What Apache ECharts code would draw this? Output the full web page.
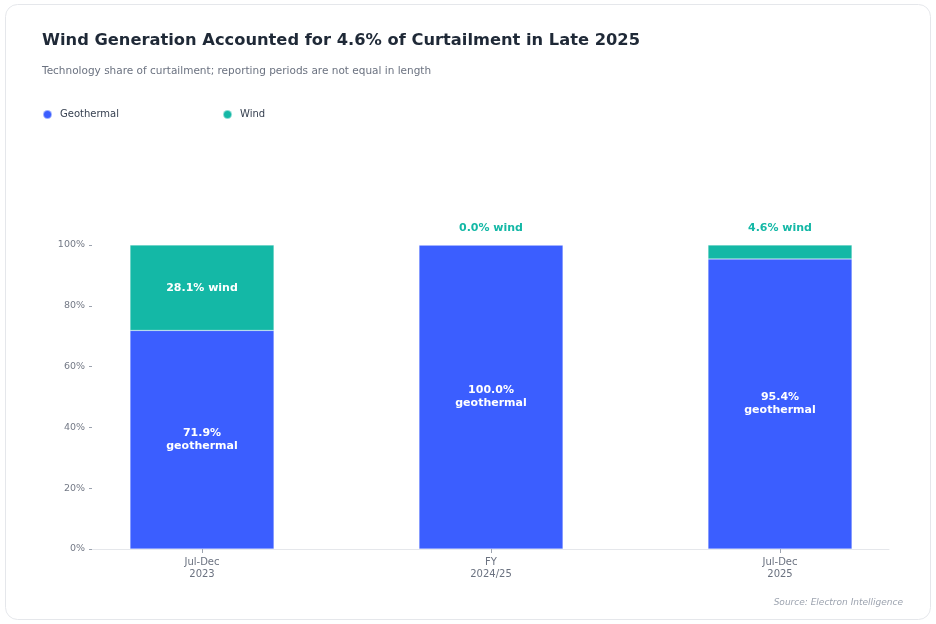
<!DOCTYPE html>
<html>
<head>
<meta charset="utf-8">
<script src="https://cdn.jsdelivr.net/npm/echarts@6/dist/echarts.min.js"></script>
<style>
  html, body { margin: 0; padding: 0; background: #fff; }
  #chart { width: 936px; height: 624px; }
</style>
</head>
<body>
<div id="chart"></div>
<script>
// periods on the x axis
var periods = ['Jul-Dec\n2023', 'FY\n2024/25', 'Jul-Dec\n2025'];
// share of curtailment, %
var geothermal = [71.9, 100.0, 95.4];
var wind = [28.1, 0.0, 4.6];
var yTicks = [0, 20, 40, 60, 80, 100];

var GEO = '#3b5eff';
var WIND = '#14b8a6';
var FONT = 'DejaVu Sans';

var chart = echarts.init(document.getElementById('chart'));

var windData = wind.map(function (v) {
    var big = v > 10; // big enough segment: label goes inside
    return {
        value: v,
        label: big ? {
            position: 'inside', color: '#fff'
        } : {
            position: 'top', distance: 11, color: WIND
        }
    };
});

var option = {
    animation: false,
    textStyle: { fontFamily: FONT },
    graphic: [{
        type: 'rect',
        silent: true,
        z: -10,
        shape: { x: 5.5, y: 4.5, width: 925, height: 615, r: 12 },
        style: { fill: '#fff', stroke: '#e5e7eb', lineWidth: 1 }
    }, {
        type: 'text',
        right: 33,
        top: 598,
        style: {
            text: 'Source: Electron Intelligence',
            font: 'italic 9px "DejaVu Sans"',
            fill: '#9ca3af'
        }
    }],
    title: {
        text: 'Wind Generation Accounted for 4.6% of Curtailment in Late 2025',
        subtext: 'Technology share of curtailment; reporting periods are not equal in length',
        left: 37,
        top: 28,
        itemGap: 17,
        textStyle: { fontFamily: FONT, fontSize: 16.3, fontWeight: 'bold', color: '#1f2937' },
        subtextStyle: { fontFamily: FONT, fontSize: 10.5, color: '#6b7280' }
    },
    legend: {
        left: 37,
        top: 104,
        icon: 'circle',
        itemWidth: 9,
        itemHeight: 9,
        itemGap: 103,
        textStyle: { fontFamily: FONT, fontSize: 10, color: '#374151', padding: [0, 0, 0, 3] },
        data: ['Geothermal', 'Wind']
    },
    grid: [
        // bars: one 289px band per period
        { left: 57.5, right: 11.5, top: 245, bottom: 75 },
        // visible axes
        { left: 92, right: 47, top: 245, bottom: 75 }
    ],
    xAxis: [{
        type: 'category',
        gridIndex: 0,
        data: periods,
        axisLine: { show: false },
        axisTick: { show: true, alignWithLabel: true, length: 4, lineStyle: { color: '#9ca3af' } },
        axisLabel: { color: '#6b7280', fontSize: 10, lineHeight: 12, margin: 7 }
    }, {
        type: 'value',
        gridIndex: 1,
        min: 0,
        max: 1,
        splitLine: { show: false },
        axisLine: { show: true, onZero: false, lineStyle: { color: '#e5e7eb' } },
        axisTick: { show: false },
        axisLabel: { show: false }
    }],
    yAxis: [{
        type: 'value',
        gridIndex: 0,
        min: 0,
        max: 100,
        show: false
    }, {
        type: 'value',
        gridIndex: 1,
        min: 0,
        max: 100,
        interval: 20,
        splitLine: { show: false },
        axisLine: { show: false, onZero: false },
        axisTick: { show: true, length: 3, lineStyle: { color: '#9ca3af' } },
        axisLabel: {
            formatter: function (v) { return yTicks.indexOf(v) >= 0 ? v + '%' : ''; },
            color: '#737986',
            fontSize: 9.5,
            margin: 7
        }
    }],
    series: [{
        name: 'Geothermal',
        type: 'bar',
        stack: 'share',
        barWidth: 144,
        data: geothermal,
        itemStyle: { color: GEO, borderColor: 'rgba(255,255,255,0.5)', borderWidth: 0.5 },
        label: {
            show: true,
            position: 'inside',
            color: '#fff',
            fontWeight: 'bold',
            fontSize: 11,
            lineHeight: 13,
            formatter: function (p) { return p.value.toFixed(1) + '%\ngeothermal'; }
        }
    }, {
        name: 'Wind',
        type: 'bar',
        stack: 'share',
        barWidth: 144,
        data: windData,
        itemStyle: { color: WIND, borderColor: 'rgba(255,255,255,0.5)', borderWidth: 0.5 },
        label: {
            show: true,
            fontWeight: 'bold',
            fontSize: 11,
            formatter: function (p) { return p.value.toFixed(1) + '% wind'; }
        }
    }]
};

chart.setOption(option);
</script>
</body>
</html>
